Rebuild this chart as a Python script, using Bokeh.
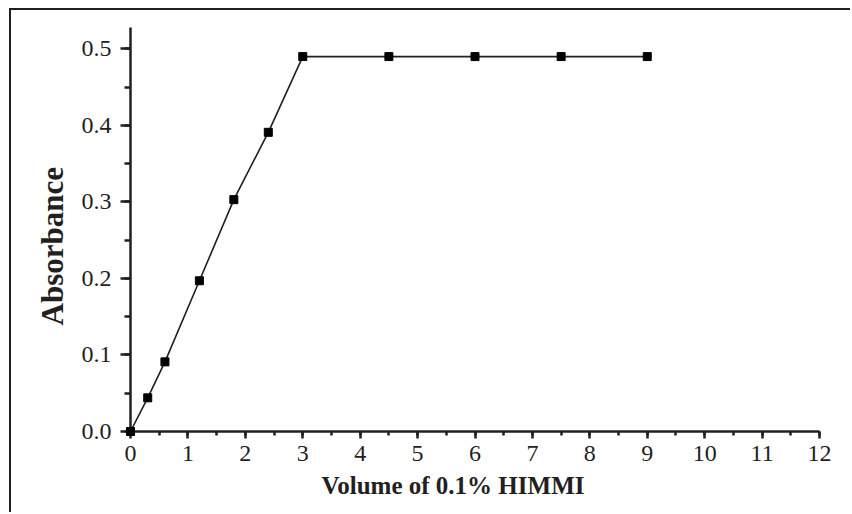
from bokeh.plotting import figure
from bokeh.models import Range1d, SingleIntervalTicker, NumeralTickFormatter, Title
from bokeh.embed import file_html
from bokeh.resources import INLINE

# Data
volume = [0, 0.3, 0.6, 1.2, 1.8, 2.4, 3.0, 4.5, 6.0, 7.5, 9.0]
absorbance = [0.0, 0.044, 0.091, 0.197, 0.303, 0.391, 0.490, 0.490, 0.490, 0.490, 0.490]
x_title = "Volume of 0.1% HIMMI"
y_title = "Absorbance"

INK = "#231f20"
FONT = "Liberation Serif"

p = figure(width=841, height=504, output_backend="svg", toolbar_location=None,
           x_range=Range1d(0, 12), y_range=Range1d(0, 0.528),
           min_border_left=119, min_border_right=33, min_border_top=17, min_border_bottom=83)
p.styles = {"border-left": "2px solid #231f20", "border-top": "2px solid #231f20",
            "margin-left": "9px", "margin-top": "8px"}
p.outline_line_color = None
p.xgrid.visible = False
p.ygrid.visible = False
p.background_fill_color = "white"
p.border_fill_color = "white"

p.xaxis.ticker = SingleIntervalTicker(interval=1, num_minor_ticks=2)
p.yaxis.ticker = SingleIntervalTicker(interval=0.1, num_minor_ticks=2)
p.yaxis.formatter = NumeralTickFormatter(format="0.0")

for ax in (p.xaxis, p.yaxis):
    ax.axis_line_width = 2.5
    ax.axis_line_color = INK
    ax.major_tick_line_width = 2.5
    ax.minor_tick_line_width = 2.5
    ax.major_tick_line_color = INK
    ax.minor_tick_line_color = INK
    ax.major_tick_in = 0
    ax.minor_tick_in = 0
    ax.major_label_text_font = FONT
    ax.major_label_text_font_size = "24px"
    ax.major_label_text_color = INK
p.xaxis.major_tick_out = 7
p.xaxis.minor_tick_out = 4
p.yaxis.major_tick_out = 10
p.yaxis.minor_tick_out = 6
p.xaxis.major_label_standoff = 7
p.yaxis.major_label_standoff = 9

p.line(volume, absorbance, line_color=INK, line_width=1.6)
r = p.scatter(volume, absorbance, marker="square", size=8, fill_color="black", line_color="black")
r.level = "overlay"

p.add_layout(Title(text=x_title, align="left", offset=191, standoff=12, text_font=FONT,
                   text_font_size="25px", text_font_style="bold", text_color=INK), "below")
p.add_layout(Title(text=y_title, align="left", offset=106, standoff=17, text_font=FONT,
                   text_font_size="31px", text_font_style="bold", text_color=INK), "left")

open("out.html", "w").write(file_html(p, INLINE))
